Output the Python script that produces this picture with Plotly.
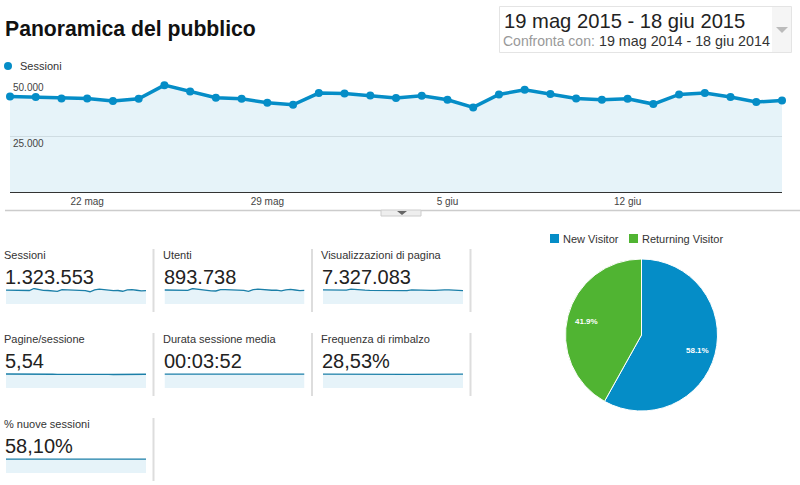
import plotly.graph_objects as go

W, H = 800, 485
BLUE = "#058dc7"
GREEN = "#50b432"
FILL = "rgba(5,141,199,0.1)"
FONT = "Liberation Sans"

# --- data ---
days = [f"2015-05-{d:02d}" for d in range(19, 32)] + [f"2015-06-{d:02d}" for d in range(1, 19)]

sessioni = [42850, 42560, 41960, 41960, 40770, 41810, 47910, 45090, 42260, 41810, 40030,
            39130, 44340, 44190, 43300, 42110, 43150, 41370, 37940, 43750, 45830, 43900,
            41960, 41370, 41810, 39430, 43750, 44340, 42560, 40320, 41070]
utenti = [29100, 29000, 28600, 28500, 27900, 28300, 32000, 30700, 29000, 28600, 27400,
          27000, 30000, 29900, 29500, 28900, 29400, 28400, 26200, 29600, 30900, 30000,
          28800, 28500, 28900, 27200, 29500, 30200, 29000, 27800, 28300]
visualizzazioni = [240000, 238000, 236000, 235000, 232000, 236000, 252000, 243000, 238000, 236000, 233000,
                   232000, 243000, 240000, 238000, 236000, 233000, 231000, 228000, 241000, 242000, 239000,
                   236000, 233000, 231000, 230000, 240000, 241000, 235000, 230000, 228000]
pagine = [5.60, 5.62, 5.60, 5.58, 5.56, 5.60, 5.66, 5.60, 5.54, 5.52, 5.50,
          5.48, 5.50, 5.52, 5.50, 5.46, 5.48, 5.52, 5.58, 5.54, 5.50, 5.46,
          5.42, 5.40, 5.42, 5.50, 5.56, 5.54, 5.52, 5.48, 5.50]
durata = [234, 234, 235, 234, 233, 235, 236, 234, 232, 231, 229,
          228, 229, 231, 233, 234, 232, 231, 233, 234, 233, 232,
          227, 224, 225, 232, 235, 233, 232, 231, 233]
rimbalzo = [28.6, 28.5, 28.6, 28.7, 28.6, 28.8, 28.4, 28.5, 28.6, 28.7, 28.9,
            28.9, 28.5, 28.4, 28.4, 28.6, 28.4, 28.2, 28.0, 28.3, 28.4, 28.4,
            28.6, 28.7, 28.6, 28.8, 28.6, 28.5, 28.4, 28.6, 28.5]
nuove = [58.2, 58.1, 58.0, 58.2, 58.3, 58.1, 58.0, 58.1, 58.3, 58.2, 58.0,
         58.1, 58.2, 58.1, 58.0, 58.1, 57.9, 58.1, 58.3, 58.2, 58.0, 58.2,
         58.1, 58.0, 58.1, 58.3, 58.2, 58.0, 58.1, 58.1, 58.2]

tick_days = ["2015-05-22", "2015-05-29", "2015-06-05", "2015-06-12"]
tick_labels = ["22 mag", "29 mag", "5 giu", "12 giu"]
y_ticks = [25000, 50000]
y_tick_labels = ["25.000", "50.000"]

pie_labels = ["New Visitor", "Returning Visitor"]
pie_values = [58.1, 41.9]

# label, big number, values, top of y range
metrics = [
    ("Sessioni", "1.323.553", sessioni, 49500),
    ("Utenti", "893.738", utenti, 33200),
    ("Visualizzazioni di pagina", "7.327.083", visualizzazioni, 272000),
    ("Pagine/sessione", "5,54", pagine, 6.4),
    ("Durata sessione media", "00:03:52", durata, 268),
    ("Frequenza di rimbalzo", "28,53%", rimbalzo, 33),
    ("% nuove sessioni", "58,10%", nuove, 67),
]


def px(x):
    return x / W


def py(y):
    return 1 - y / H


def text(x, y, s, size=11, color="#333333", anchor="left", **kw):
    # annotations carry about 2px of padding on the left
    x = x - 2 if anchor == "left" else x
    return dict(x=px(x), y=py(y), xref="paper", yref="paper", text=s, showarrow=False,
                xanchor=anchor, yanchor="middle", font=dict(size=size, color=color, family=FONT), **kw)


def line(x0, y0, x1, y1, color="#dddddd", width=1):
    return dict(type="line", xref="paper", yref="paper", x0=px(x0), y0=py(y0), x1=px(x1), y1=py(y1),
                line=dict(color=color, width=width), layer="below")


def box(x0, y0, x1, y1, fill, color=None):
    return dict(type="rect", xref="paper", yref="paper", x0=px(x0), y0=py(y0), x1=px(x1), y1=py(y1),
                fillcolor=fill, line=dict(color=color, width=1 if color else 0), layer="below")


def triangle(cx, cy, half, height, fill):
    x0, x1 = px(cx - half), px(cx + half)
    y0, y1 = py(cy), py(cy + height)
    return dict(type="path", xref="paper", yref="paper", path=f"M {x0} {y0} L {x1} {y0} L {px(cx)} {y1} Z",
                fillcolor=fill, line=dict(width=0))


fig = go.Figure()

# main series
fig.add_trace(go.Scatter(
    x=days, y=sessioni, mode="lines+markers", fill="tozeroy", fillcolor=FILL,
    line=dict(color=BLUE, width=3.5), marker=dict(color=BLUE, size=8),
    cliponaxis=False, showlegend=False, xaxis="x", yaxis="y",
))

layout = dict(
    xaxis=dict(
        domain=[px(10), px(782)], range=[days[0], days[-1]], type="date",
        tickvals=tick_days, ticktext=tick_labels, ticks="", showgrid=False,
        showline=True, linecolor="#333333", linewidth=1,
        tickfont=dict(size=10, color="#444444", family=FONT),
    ),
    yaxis=dict(
        domain=[py(192), py(80.5)], range=[0, 50000],
        tickvals=y_ticks, ticktext=y_tick_labels, ticklabelposition="inside",
        ticklabelshift=7, gridcolor="#e6e6e6", gridwidth=1, zeroline=False, showline=False,
        tickfont=dict(size=10, color="#444444", family=FONT),
    ),
)

annotations = [
    text(5, 29, "<b>Panoramica del pubblico</b>", size=21.2, color="#111111"),
    text(20, 66, "Sessioni", size=11),
    text(504, 21, "19 mag 2015 - 18 giu 2015", size=20.2, color="#222222"),
    text(503, 41, "Confronta con:", size=14, color="#999999"),
    text(599, 41, "19 mag 2014 - 18 giu 2014", size=14.3, color="#333333"),
]
shapes = [
    dict(type="circle", xref="paper", yref="paper", x0=px(4), x1=px(12), y0=py(70), y1=py(62),
         fillcolor=BLUE, line=dict(width=0)),
    box(499.5, 6.5, 791.5, 52.5, "#ffffff", "#e4e4e4"),
    box(772, 7, 791, 52, "#f5f5f5"),
    triangle(782, 27, 6, 6, "#bbbbbb"),
    line(5, 210.5, 381, 210.5, "#cccccc", 1.5),
    line(421, 210.5, 800, 210.5, "#cccccc", 1.5),
    box(381, 210, 421, 216, "#eeeeee", "#cccccc"),
    triangle(402, 211, 5, 4, "#666666"),
]

# small metric panels, three to a row
col_x = [5, 163.5, 322]
row_y = [255, 339, 424]
for i, (label, big, values, top) in enumerate(metrics):
    col, row = i % 3, i // 3
    x, y = col_x[col], row_y[row]
    n = i + 2
    fig.add_trace(go.Scatter(
        x=days, y=values, mode="lines", fill="tozeroy", fillcolor=FILL,
        line=dict(color="#1b7fa8", width=1.3), showlegend=False,
        xaxis=f"x{n}", yaxis=f"y{n}",
    ))
    layout[f"xaxis{n}"] = dict(domain=[px(x + 1), px(x + 141)], range=[days[0], days[-1]], type="date",
                               visible=False, anchor=f"y{n}")
    layout[f"yaxis{n}"] = dict(domain=[py(y + 49), py(y + 33)], range=[0, top], visible=False, anchor=f"x{n}")
    annotations.append(text(x - 1, y, label, size=11))
    annotations.append(text(x, y + 21.5, big, size=20, color="#222222"))
    shapes.append(line(x + 148.5, y - 6, x + 148.5, y + 57, "#dddddd", 2))

# pie
fig.add_trace(go.Pie(
    labels=pie_labels, values=pie_values, sort=False, direction="clockwise", rotation=0,
    marker=dict(colors=[BLUE, GREEN], line=dict(color="#ffffff", width=1)),
    textinfo="none", showlegend=False, domain=dict(x=[px(565.5), px(717.5)], y=[py(411), py(259)]),
))
annotations.append(text(697, 350, f"<b>{pie_values[0]}%</b>", size=8, color="#ffffff", anchor="center"))
annotations.append(text(586, 321, f"<b>{pie_values[1]}%</b>", size=8, color="#ffffff", anchor="center"))

# pie legend
for lx, name, color in [(550, pie_labels[0], BLUE), (629, pie_labels[1], GREEN)]:
    shapes.append(box(lx, 234, lx + 9, 243, color))
    annotations.append(text(lx + 12.5, 238.5, name, size=11))

fig.update_layout(
    **layout,
    width=W, height=H, margin=dict(l=0, r=0, t=0, b=0),
    paper_bgcolor="#ffffff", plot_bgcolor="#ffffff",
    font=dict(family=FONT), annotations=annotations, shapes=shapes, showlegend=False,
)

fig.write_html("out.html", config=dict(displayModeBar=False), post_script="document.body.style.margin='0';")
